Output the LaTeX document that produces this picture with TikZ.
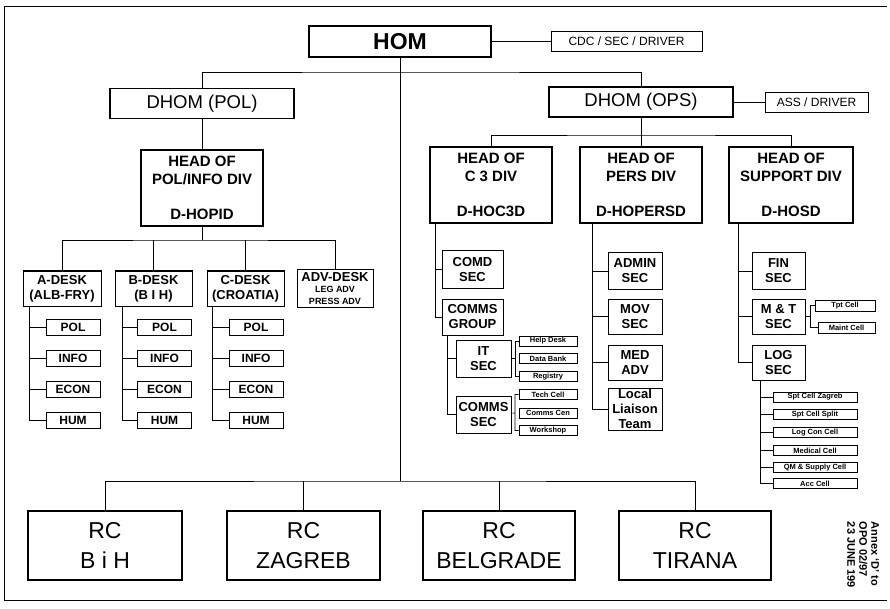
\documentclass[tikz,border=0pt]{standalone}
\usepackage{fontspec}
\setmainfont{Liberation Sans}
\usepackage{tikz}
\usetikzlibrary{positioning}

\newcommand{\advfont}{\fontsize{9}{10}\selectfont}

\begin{document}
\begin{tikzpicture}[
  x=1pt, y=-1pt, line width=0.9pt,
  box/.style={draw, align=center, inner sep=0pt},
  big/.style={box, line width=1.2pt, font=\bfseries\fontsize{23}{28}\selectfont},
  mid/.style={box, line width=1.1pt, font=\fontsize{18.5}{22}\selectfont, minimum width=184pt, minimum height=30pt},
  tag/.style={box, line width=0.8pt, font=\fontsize{12}{14}\selectfont, minimum height=20pt},
  head/.style={box, line width=1.1pt, font=\bfseries\fontsize{15}{18}\selectfont, minimum width=122pt, minimum height=76pt},
  desk/.style={box, line width=1pt, font=\bfseries\fontsize{13}{15}\selectfont, minimum height=35pt},
  sub/.style={box, line width=1pt, font=\bfseries\fontsize{12}{14}\selectfont, minimum width=54pt, minimum height=16pt},
  sec/.style={box, line width=1pt, font=\bfseries\fontsize{13}{15}\selectfont, minimum height=36pt},
  cell/.style={box, line width=0.6pt, font=\bfseries\fontsize{7.5}{9}\selectfont, minimum height=10pt},
  rcbox/.style={box, line width=1.2pt, font=\fontsize{23}{30}\selectfont, minimum height=69pt},
  annex/.style={align=left, inner sep=0pt, font=\bfseries\fontsize{11}{12}\selectfont}
]
  \useasboundingbox (0,0) rectangle (890,609);
  \draw[line width=1pt] (887,7) -- (4,7) -- (4,600) -- (887,600);

  \node[big, minimum width=182pt, minimum height=31pt] (hom) at (400,41.5) {HOM};
  \node[tag, minimum width=151pt] (cdc) at (626.5,41.5) {CDC / SEC / DRIVER};
  \node[mid] (dpol) at (202,103.5) {DHOM (POL)};
  \node[mid] (dops) at (641,102) {DHOM (OPS)};
  \node[tag, minimum width=103pt] (ass) at (816.5,102) {ASS / DRIVER};

  \node[head] (polhead) at (202,188) {HEAD OF\\POL/INFO DIV\\[17pt]D-HOPID};
  \node[head] (c3head) at (491,185) {HEAD OF\\C 3 DIV\\[17pt]D-HOC3D};
  \node[head] (pershead) at (641,185) {HEAD OF\\PERS DIV\\[17pt]D-HOPERSD};
  \node[head, minimum width=124pt] (suphead) at (791,185) {HEAD OF\\SUPPORT DIV\\[17pt]D-HOSD};

  \node[desk, minimum width=78pt] (adesk) at (62,288.5) {A-DESK\\(ALB-FRY)};
  \node[desk, minimum width=77pt] (bdesk) at (153.5,288.5) {B-DESK\\(B I H)};
  \node[desk, minimum width=77pt] (cdesk) at (245.5,288.5) {C-DESK\\(CROATIA)};
  \node[desk, minimum width=76pt, minimum height=37pt] (advdesk) at (335,288.5)
    {ADV-DESK\\[-4pt]\advfont LEG ADV\\[-3pt]\advfont PRESS ADV};

  \node[sub] (apol) at (73,327.5) {POL};
  \node[sub, below=14pt of apol] (ainfo) {INFO};
  \node[sub, below=14pt of ainfo] (aecon) {ECON};
  \node[sub, below=14pt of aecon] (ahum) {HUM};
  \node[sub] (bpol) at (164.5,327.5) {POL};
  \node[sub, below=14pt of bpol] (binfo) {INFO};
  \node[sub, below=14pt of binfo] (becon) {ECON};
  \node[sub, below=14pt of becon] (bhum) {HUM};
  \node[sub] (cpol) at (256,327.5) {POL};
  \node[sub, below=14pt of cpol] (cinfo) {INFO};
  \node[sub, below=14pt of cinfo] (cecon) {ECON};
  \node[sub, below=14pt of cecon] (chum) {HUM};

  \node[sec, minimum width=61pt, minimum height=37pt] (comd) at (472.5,269.5) {COMD\\SEC};
  \node[sec, minimum width=61pt] (cgrp) at (472.5,317) {COMMS\\GROUP};
  \node[sec, minimum width=55pt, minimum height=37pt] (itsec) at (483.5,358.5) {IT\\SEC};
  \node[sec, minimum width=55pt, minimum height=37pt] (cmsec) at (483.5,414.5) {COMMS\\SEC};
  \node[cell, minimum width=58pt] (helpdesk) at (548,341) {Help Desk};
  \node[cell, minimum width=58pt] (databank) at (548,358.5) {Data Bank};
  \node[cell, minimum width=58pt] (registry) at (548,376.5) {Registry};
  \node[cell, minimum width=58pt] (techcell) at (548,394.5) {Tech Cell};
  \node[cell, minimum width=58pt] (commscen) at (548,413) {Comms Cen};
  \node[cell, minimum width=58pt] (workshop) at (548,430.5) {Workshop};

  \node[sec, minimum width=54pt] (admin) at (635,271) {ADMIN\\SEC};
  \node[sec, minimum width=54pt, minimum height=35pt] (mov) at (635,316.5) {MOV\\SEC};
  \node[sec, minimum width=54pt, minimum height=35pt] (med) at (635,362.5) {MED\\ADV};
  \node[sec, minimum width=54pt, minimum height=42pt] (llt) at (635,409) {Local\\Liaison\\Team};

  \node[sec, minimum width=53pt] (fin) at (778.5,271) {FIN\\SEC};
  \node[sec, minimum width=53pt, minimum height=35pt] (mt) at (778.5,316.5) {M \& T\\SEC};
  \node[sec, minimum width=53pt, minimum height=35pt] (log) at (778.5,362.5) {LOG\\SEC};
  \node[cell, minimum width=60pt, minimum height=11pt] (tpl) at (845,305.5) {Tpt Cell};
  \node[cell, minimum width=57pt, minimum height=11pt] (maint) at (846.5,327.5) {Maint Cell};
  \node[cell, minimum width=84pt] (sptzag) at (815,397) {Spt Cell Zagreb};
  \node[cell, minimum width=84pt] (sptsplit) at (815,414.5) {Spt Cell Split};
  \node[cell, minimum width=84pt] (logcon) at (815,432.5) {Log Con Cell};
  \node[cell, minimum width=84pt] (medcell) at (815,450.5) {Medical Cell};
  \node[cell, minimum width=84pt] (qmcell) at (815,467.5) {QM \& Supply Cell};
  \node[cell, minimum width=84pt] (acccell) at (815,483.5) {Acc Cell};

  \node[rcbox, minimum width=154pt] (rcbih) at (105,545.5) {RC\\B i H};
  \node[rcbox, minimum width=153pt] (rczag) at (303.5,545.5) {RC\\ZAGREB};
  \node[rcbox, minimum width=152pt] (rcbel) at (499,545.5) {RC\\BELGRADE};
  \node[rcbox, minimum width=152pt] (rctir) at (695,545.5) {RC\\TIRANA};

  \node[annex, rotate=-90] (annex) at (863,555) {Annex `D' to\\OPO 02/97\\23 JUNE 199};

  \coordinate (topbar) at (400,72);
  \coordinate (rcbar) at (400,481);
  \coordinate (opsbar) at (641,135);
  \coordinate (polbar) at (202,240);
  \draw (hom.east) -- (cdc.west);
  \draw (dops.east) -- (ass.west);
  \draw (dpol.north) |- (topbar) -| (dops.north);
  \draw (hom.south) -- (rcbar);
  \draw (rcbih.north) |- (rcbar) -| (rctir.north);
  \draw (rczag.north) -- (rczag.north |- rcbar);
  \draw (rcbel.north) -- (rcbel.north |- rcbar);

  \draw (dpol.south) -- (polhead.north);
  \draw (polhead.south) -- (polbar);
  \draw (adesk.north) |- (polbar) -| (advdesk.north);
  \draw (bdesk.north) -- (bdesk.north |- polbar);
  \draw (cdesk.north) -- (cdesk.north |- polbar);
  \coordinate (aline) at (29,306);
  \coordinate (bline) at (122,306);
  \coordinate (cline) at (212,306);
  \draw (aline) |- (apol) (aline) |- (ainfo) (aline) |- (aecon) (aline) |- (ahum);
  \draw (bline) |- (bpol) (bline) |- (binfo) (bline) |- (becon) (bline) |- (bhum);
  \draw (cline) |- (cpol) (cline) |- (cinfo) (cline) |- (cecon) (cline) |- (chum);

  \draw (dops.south) -- (pershead.north);
  \draw (c3head.north) |- (opsbar) -| (suphead.north);

  \coordinate (c3line) at (435,223);
  \coordinate (cgline) at (447,335);
  \coordinate (itbr) at (515,358.5);
  \coordinate (cmbr) at (515,413);
  \draw (c3line) |- (comd) (c3line) |- (cgrp);
  \draw (cgline) |- (itsec) (cgline) |- (cmsec);
  \draw[line width=0.6pt] (itsec) -- (itbr) (itbr) |- (helpdesk) (itbr) |- (registry);
  \draw[line width=0.6pt] (cmsec) -- (cmbr) (cmbr) |- (techcell) (cmbr) |- (workshop);

  \coordinate (persline) at (592,223);
  \draw (persline) |- (admin) (persline) |- (mov) (persline) |- (med) (persline) |- (llt);

  \coordinate (supline) at (738,223);
  \coordinate (mtbr) at (810,316.5);
  \coordinate (logline) at (760,380);
  \draw (supline) |- (fin) (supline) |- (mt) (supline) |- (log);
  \draw[line width=0.6pt] (mt) -- (mtbr) (mtbr) |- (tpl) (mtbr) |- (maint);
  \draw[line width=0.6pt] (logline) |- (sptzag) (logline) |- (sptsplit) (logline) |- (logcon)
    (logline) |- (medcell) (logline) |- (qmcell) (logline) |- (acccell);
\end{tikzpicture}
\end{document}
